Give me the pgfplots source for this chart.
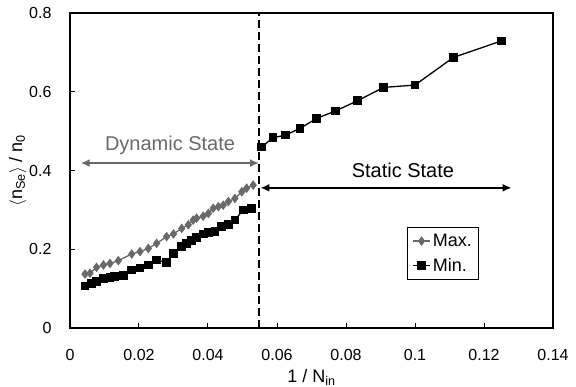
\documentclass[border=0pt]{standalone}
\usepackage{pgfplots}
\pgfplotsset{compat=1.18}
\usepackage{fontspec}
\setmainfont{Liberation Sans}
\usetikzlibrary{arrows.meta}
\definecolor{maxgray}{RGB}{105,105,105}
\begin{document}
\begin{tikzpicture}[x=1pt,y=1pt]
\path[use as bounding box] (-70,-59) rectangle (506,328);
\begin{axis}[
  at={(0,0)}, anchor=south west,
  scale only axis, width=483pt, height=315pt,
  xmin=0, xmax=0.14, ymin=0, ymax=0.8,
  xtick={0,0.02,0.04,0.06,0.08,0.1,0.12,0.14},
  xticklabels={0,0.02,0.04,0.06,0.08,0.1,0.12,0.14},
  ytick={0,0.2,0.4,0.6,0.8},
  yticklabels={0,0.2,0.4,0.6,0.8},
  /pgf/number format/assume math mode=true,
  tick align=inside, xtick pos=bottom, ytick pos=left,
  major tick length=5pt,
  tick style={black, line width=1pt},
  axis line style={line width=1.3pt},
  ticklabel style={font=\fontsize{16}{19}\selectfont},
  xticklabel style={yshift=-18pt},
  yticklabel style={xshift=-15pt},
  xlabel={1 / N\textsubscript{in}},
  ylabel={$\langle$n\textsubscript{Se}$\rangle$ / n\textsubscript{0}},
  label style={font=\fontsize{18}{21}\selectfont},
  xlabel style={at={(0.5,0)}, anchor=north, yshift=-38pt},
  ylabel style={at={(0,0.5)}, anchor=south, yshift=40pt},
  legend style={at={(axis cs:0.1186,0.122)}, anchor=south east,
    draw=black, line width=0.8pt, font=\fontsize{18}{21}\selectfont,
    inner xsep=5pt, inner ysep=5pt, row sep=6pt},
  legend cell align=left,
]
% Max (dynamic)
\addplot[color=maxgray, line width=1.3pt, mark=diamond*, mark size=3.8pt, mark options={solid}] coordinates {
(0.00435,0.137) (0.0058,0.139) (0.0077,0.154) (0.0097,0.160) (0.0116,0.164)
(0.0140,0.171) (0.0179,0.188) (0.0203,0.194) (0.0227,0.202) (0.0251,0.215)
(0.0280,0.232) (0.0300,0.239) (0.0324,0.253) (0.0343,0.262) (0.0357,0.274)
(0.0367,0.279) (0.0386,0.284) (0.0401,0.291) (0.0415,0.304) (0.0430,0.308)
(0.0444,0.312) (0.0459,0.321) (0.0478,0.329) (0.0498,0.346) (0.0512,0.355)
(0.0531,0.363)
};
\addlegendentry{Max.}
% Min (dynamic)
\addplot[color=black, line width=1.3pt, mark=square*, mark size=3.7pt] coordinates {
(0.00435,0.107) (0.0063,0.1135) (0.0077,0.118) (0.0097,0.126) (0.0116,0.129)
(0.0130,0.130) (0.0155,0.133) (0.0179,0.147) (0.0203,0.152) (0.0227,0.160)
(0.0251,0.173) (0.0280,0.166) (0.0300,0.190) (0.0324,0.207) (0.0338,0.215)
(0.0353,0.223) (0.0367,0.230) (0.0386,0.239) (0.0401,0.242) (0.0420,0.245)
(0.0440,0.257) (0.0459,0.263) (0.0478,0.274) (0.0502,0.300) (0.0527,0.304)
};
\addlegendentry{Min.}
% Min (static)
\addplot[color=black, line width=1.3pt, mark=square*, mark size=3.7pt, forget plot] coordinates {
(0.0556,0.460) (0.0588,0.483) (0.0625,0.490) (0.0667,0.507) (0.0714,0.532)
(0.0769,0.551) (0.0833,0.577) (0.0909,0.611) (0.1000,0.617) (0.1111,0.687)
(0.1250,0.729)
};
% dashed separator
\draw[black, line width=2pt, dash pattern=on 8pt off 4pt] (axis cs:0.0548,0) -- (axis cs:0.0548,0.8);
% arrows
\draw[maxgray, line width=1.8pt, {Latex[length=9pt,width=8pt]}-{Latex[length=9pt,width=8pt]}] (axis cs:0.0031,0.419) -- (axis cs:0.0548,0.419);
\node[maxgray, font=\fontsize{20}{24}\selectfont] at (axis cs:0.0290,0.465) {Dynamic State};
\draw[black, line width=1.8pt, {Latex[length=9pt,width=8pt]}-{Latex[length=9pt,width=8pt]}] (axis cs:0.0552,0.356) -- (axis cs:0.1280,0.356);
\node[black, font=\fontsize{20}{24}\selectfont] at (axis cs:0.0965,0.401) {Static State};
\end{axis}
\end{tikzpicture}
\end{document}
